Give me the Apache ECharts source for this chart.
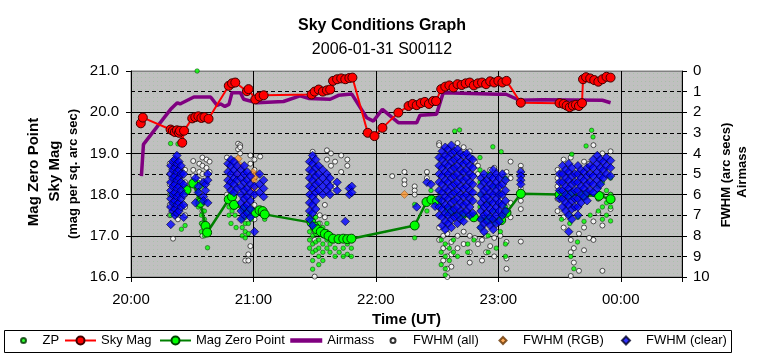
<!DOCTYPE html>
<html>
<head>
<meta charset="utf-8">
<script src="https://cdn.jsdelivr.net/npm/echarts@6/dist/echarts.min.js"></script>
<style>
html,body{margin:0;padding:0;background:#fff;}
#chart{width:764px;height:358px;}
</style>
</head>
<body>
<div id="chart"></div>
<script>
// ---- DATA (x = minutes after 20:00 UT) ----
const hourLabels = ['20:00', '21:00', '22:00', '23:00', '00:00'];
const leftTicks = [16, 17, 18, 19, 20, 21];
const rightTicks = [0, 1, 2, 3, 4, 5, 6, 7, 8, 9, 10];

// Sky Mag (left axis, mag per sq. arc sec)
const skyMag = [
  [4.8, 19.73], [5.8, 19.87], [19.4, 19.58], [20.5, 19.55], [21.5, 19.52], [22.5, 19.56], [23.5, 19.5],
  [24, 19.55], [25.1, 19.26], [26, 19.55], [30, 19.85], [31.5, 19.88], [33, 19.9], [34.5, 19.86],
  [36, 19.88], [38, 19.84], [47.9, 20.64], [49.5, 20.7], [51.1, 20.72], [56.8, 20.51], [57.6, 20.56],
  [60.9, 20.31], [63, 20.38], [65, 20.41], [88.5, 20.43], [90, 20.5], [92, 20.55], [94, 20.5],
  [96, 20.53], [97.6, 20.55], [99, 20.76], [101, 20.8], [103, 20.82], [105, 20.8], [107, 20.83],
  [108.5, 20.84], [116, 19.5], [119.3, 19.42], [123.2, 19.62], [131, 19.99], [136, 20.15], [138, 20.2],
  [140, 20.17], [142, 20.22], [144, 20.25], [146, 20.2], [148, 20.27], [149.5, 20.27], [152, 20.56],
  [154, 20.62], [156, 20.65], [158, 20.6], [160, 20.68], [162, 20.66], [164, 20.7], [166, 20.72],
  [168, 20.65], [170, 20.7], [172, 20.72], [174, 20.68], [176, 20.75], [178, 20.72], [180, 20.76],
  [182, 20.72], [184, 20.76], [191, 20.23], [210, 20.22], [212, 20.2], [213.5, 20.16], [215, 20.12],
  [216.5, 20.16], [218, 20.18], [219.5, 20.15], [221, 20.22], [221.5, 20.8], [223, 20.85], [225, 20.82],
  [227, 20.78], [229, 20.74], [231, 20.8], [233, 20.86], [235, 20.84]
];

// Mag Zero Point (left axis)
const magZeroPoint = [
  [27.2, 18.11], [30.5, 18.27], [34, 17.8], [36.5, 17.24], [37.3, 17.08], [47.9, 17.88], [49.5, 17.95],
  [50.5, 17.75], [56, 17.64], [58, 17.6], [60.9, 17.56], [63, 17.62], [64.5, 17.6], [65.5, 17.52],
  [88.5, 17.32], [90, 17.22], [91, 17.16], [93, 17.1], [95, 17.05], [96.8, 17.0], [99, 16.93],
  [101.7, 16.92], [104, 16.93], [106, 16.92], [108, 16.93], [139, 17.25], [144.8, 17.82], [147.2, 17.88],
  [150, 17.85], [156, 17.6], [162, 17.5], [168, 17.45], [175, 17.4], [181.4, 17.38], [184, 17.56],
  [191, 18.02], [210, 18.0], [215, 18.0], [222, 17.98], [229.4, 17.97], [235, 17.89]
];

// Airmass (right axis)
const airmass = [
  [5.1, 5.1], [6.1, 3.56], [19.4, 1.86], [22.7, 1.54], [24, 1.6], [30.8, 1.26], [39, 1.26], [42.2, 1.67],
  [44, 1.6], [46, 1.72], [48, 1.62], [49.5, 1.05], [53.6, 1.05], [55.2, 1.37], [61.7, 1.54], [74.7, 1.48],
  [82.8, 1.21], [87, 1.33], [97.6, 1.37], [101.7, 1.18], [108.2, 1.12], [115.5, 2.27], [118.8, 2.43],
  [123.2, 1.86], [131, 2.51], [140, 2.51], [141.6, 2.15], [149.7, 2.1], [153, 1.05], [179.8, 1.13],
  [183.8, 1.13], [190.3, 1.42], [201.7, 1.4], [231, 1.42], [235, 1.54]
];

// ZP (left axis) : [minute, [values]]
const zpGroups = [
  [19.4, [19.24, 18.0, 17.5]], [20.5, [18.4, 17.8]], [23, [19.23]], [23.5, [18.5]], [24.7, [17.16]], [26.5, [17.25]],
  [32.4, [21.0]], [33, [18.3, 18.1, 17.9, 17.7]], [34.5, [18.2, 17.8, 17.5, 17.3, 17.1]], [36, [17.6, 17.4, 17.2, 17.0]],
  [37.5, [16.71, 17.1]], [48, [17.9, 17.7, 17.5]], [49.5, [17.95, 17.8, 17.6]], [51, [17.7, 17.5]],
  [49, [17.3]], [51.5, [17.2]], [54.5, [17.65, 17.4, 17.2, 17.0]], [56, [17.6, 17.45, 17.3, 17.1, 16.95]],
  [57.5, [17.5, 17.3, 17.05]], [59, [17.6, 17.4]], [65.5, [17.4, 17.5]],
  [87.5, [17.5, 17.3, 17.1, 16.9, 16.7]], [89, [17.4, 17.2, 17.0, 16.8, 16.6, 16.4, 16.19]],
  [90.5, [17.45, 17.25, 17.05, 16.85, 16.65]], [92, [17.3, 17.1, 16.9, 16.7, 16.5, 16.3]],
  [94, [17.2, 17.0, 16.8, 16.6, 16.4]], [96, [17.3, 17.1, 16.9, 16.7]], [97.5, [17.0, 16.8, 16.6]],
  [100, [16.7, 16.5]], [102, [16.9, 16.6]], [104, [16.7, 16.5]], [106, [16.8, 16.55]], [108, [16.7, 16.5]],
  [139, [17.76, 16.95]], [145, [17.6]], [147, [18.1]], [158.6, [19.54]], [161, [19.57]],
  [171, [18.9, 18.6, 18.3, 18.0, 17.7, 17.4, 17.2]], [175, [18.5, 17.8, 17.0, 16.6]], [177.3, [19.16]],
  [178, [18.2, 17.6, 17.3]], [179, [16.7]], [181, [18.0, 17.5, 17.1]], [181.4, [19.04]], [183.5, [18.4, 17.7, 16.8, 16.5]],
  [152, [16.9, 16.6, 16.3]], [154, [16.8, 16.5, 16.2, 16.05]], [156, [16.7, 16.4]], [158, [16.9, 16.6]],
  [160, [16.5]], [165, [16.8, 16.6]], [168, [16.9]],
  [216, [18.98]], [223, [19.18]], [225.7, [19.56]], [226.4, [19.4]],
  [229, [18.2, 17.9, 17.6]], [231, [18.3, 18.0, 17.7, 17.4]], [233, [18.1, 17.8, 17.5]], [235, [18.4, 18.0, 17.7, 17.36]],
  [211, [17.4]], [215, [17.5, 17.3]], [219, [17.45]], [222, [17.35]], [225, [17.5]],
  [215.5, [16.5]], [217, [16.2]], [218.8, [16.85]]
];

// FWHM (all) (right axis)
const fwhmAllGroups = [
  [19, [4.5, 5.0, 5.5, 6.0, 6.5, 7.0]], [20.6, [8.14]], [23, [7.2]], [26.5, [4.8, 5.4, 6.0, 6.6, 7.0]],
  [30.5, [4.37, 4.8, 5.1]], [33.5, [4.5, 4.9, 5.3]], [35, [4.2, 4.6, 5.0, 6.8, 7.4, 8.0]], [37, [4.3, 4.7]], [38.5, [4.4, 4.9]],
  [47, [4.2, 6.0]], [50, [6.2]], [52.5, [3.53, 3.8]], [53.5, [3.6, 3.7, 4.0]],
  [56, [9.2]], [57.5, [8.9, 9.2]], [58.5, [4.1, 4.5, 8.5]], [60.5, [4.3, 4.8, 5.2, 6.5, 7.2]], [63.3, [4.15]],
  [89, [3.92, 4.2]], [90, [9.98, 8.2, 7.8]], [92.5, [7.0, 7.4]], [95, [6.5, 7.1]], [96, [3.85, 4.3]],
  [98, [4.0, 4.6]], [100, [4.4, 5.6]], [103, [4.1, 4.9]], [106, [4.3, 4.6]],
  [128, [5.1]], [134, [4.9, 5.3, 5.5]], [139, [5.6, 5.8, 6.0]], [145, [4.9, 5.2]],
  [151, [3.5, 3.6, 7.6, 8.2]], [153, [8.0, 8.6, 9.2]], [155, [7.9, 8.5, 9.0, 9.6, 10.0]], [157, [8.3, 8.9, 9.5]],
  [160, [3.5, 8.0, 8.6]], [163, [3.7, 7.8, 8.4]], [166, [3.9, 8.0, 8.8, 9.3]], [168.5, [4.4, 8.1]],
  [170, [4.6, 5.0, 8.4]], [172, [8.2, 9.2]], [174, [8.0, 8.8]], [176, [4.8, 8.5]], [178, [4.7, 8.1, 9.0]],
  [181, [8.0]], [184, [4.9, 8.3, 9.1, 9.6]], [186, [4.4, 5.2, 6.4, 7.1]],
  [191, [4.6, 4.8, 5.7, 6.0, 6.3, 6.7, 8.28]],
  [209, [4.8, 5.2, 5.6, 6.2, 6.8]], [212, [4.3, 7.1, 7.6]], [215.5, [4.2, 8.2, 8.8, 9.95]], [217, [8.6, 9.3]],
  [219.5, [7.9, 9.7]], [222, [4.4, 7.6, 8.7]], [224.5, [4.5, 8.1]], [226.6, [3.6, 7.3, 8.2]], [229, [6.2, 6.9]],
  [231, [4.0, 7.5, 9.7]], [235, [3.9, 6.0, 6.7]]
];

// FWHM (RGB) (right axis)
const fwhmRGB = [
  [52.5, 4.26], [52.5, 5.0], [53.5, 4.6], [59.8, 4.93], [60, 5.3], [60, 5.7], [61, 5.1], [134, 5.99]
];

// FWHM (clear) (right axis)
const fwhmClearGroups = [
  [19.5, [4.6, 5.0, 5.4, 5.8, 6.2, 6.6, 7.45]], [20.5, [4.4, 4.8, 5.2, 5.6, 6.0, 6.4, 6.8]],
  [21.5, [4.3, 4.7, 5.1, 5.5, 5.9, 6.3, 6.7, 7.0]], [22.5, [4.1, 4.5, 4.9, 5.3, 5.7, 6.1, 6.5, 6.9]],
  [23.5, [4.4, 4.8, 5.2, 5.6, 6.0, 6.4, 6.8]], [24.5, [4.6, 5.0, 5.4, 5.8, 6.2, 6.6]], [25.8, [5.0, 5.5, 6.0, 6.5, 7.1]],
  [31.6, [5.2, 6.4]], [33, [5.6, 5.9]], [35.5, [5.4, 6.1, 6.3]], [36.5, [5.5, 5.8]], [37.6, [5.0, 5.3, 6.4]],
  [47.5, [4.5, 4.9, 5.3, 5.6]], [49, [4.3, 4.6, 5.0, 5.4, 5.8]], [50.5, [4.4, 4.8, 5.2, 5.5, 5.9]],
  [52, [4.6, 5.0, 5.3, 5.7]], [54, [4.8, 5.2, 5.6, 6.0, 6.4, 6.8, 7.2]], [55.5, [4.6, 5.0, 5.4, 5.8, 6.2, 6.6, 7.0]],
  [57, [4.9, 5.3, 5.7, 6.1, 6.5, 6.9]], [58.5, [5.1, 5.5, 5.9, 6.3, 6.7, 7.1]], [60.5, [5.6, 6.0, 7.8]],
  [63, [5.0, 5.5, 5.9]], [65, [5.3, 5.7, 6.1]],
  [87.5, [4.4, 4.8, 5.2, 5.6, 6.0, 6.4, 6.8, 7.2]], [89, [4.1, 4.5, 4.9, 5.3, 5.7, 6.1, 6.5, 6.9, 7.5]],
  [90.5, [4.3, 4.7, 5.1, 5.5, 5.9, 6.3, 6.7]], [92, [4.6, 5.0, 5.4, 5.8]], [94, [4.8, 5.2, 5.6, 6.0]],
  [96, [5.0, 5.4, 5.8]], [97.5, [5.2, 5.6, 6.0]], [101, [5.4, 5.8]], [105, [7.3]], [107, [5.7, 6.0]], [108.2, [5.6, 5.9]],
  [140, [6.6]], [145, [5.4]], [147, [5.5]], [149, [6.57]],
  [151, [4.2, 4.6, 5.0, 5.4, 5.8, 6.2, 6.6, 7.0]], [152.5, [3.9, 4.3, 4.7, 5.1, 5.5, 5.9, 6.3, 6.7, 7.1, 7.5]],
  [154, [3.7, 4.1, 4.5, 4.9, 5.3, 5.7, 6.1, 6.5, 6.9, 7.3, 7.7]], [155.5, [3.8, 4.2, 4.6, 5.0, 5.4, 5.8, 6.2, 6.6, 7.0, 7.4]],
  [157, [3.6, 4.0, 4.4, 4.8, 5.2, 5.6, 6.0, 6.4, 6.8, 7.2, 7.6]], [158.5, [3.9, 4.3, 4.7, 5.1, 5.5, 5.9, 6.3, 6.7, 7.1]],
  [160, [3.8, 4.2, 4.6, 5.0, 5.4, 5.8, 6.2, 6.6, 7.0, 7.4]], [161.5, [4.0, 4.4, 4.8, 5.2, 5.6, 6.0, 6.4, 6.8, 7.2]],
  [163, [4.1, 4.5, 4.9, 5.3, 5.7, 6.1, 6.5, 6.9, 7.3]], [164.5, [4.0, 4.4, 4.8, 5.2, 5.6, 6.0, 6.4, 6.8]],
  [166, [4.2, 4.6, 5.0, 5.4, 5.8, 6.2, 6.6, 7.0]], [167.5, [4.3, 4.7, 5.1, 5.5, 5.9, 6.3, 6.9]],
  [171.5, [5.2, 5.6, 6.0, 6.4, 6.8, 7.2, 7.6]], [173, [5.0, 5.4, 5.8, 6.2, 6.6, 7.0, 7.4, 7.8]],
  [174.5, [5.3, 5.7, 6.1, 6.5, 6.9, 7.3]], [176, [5.1, 5.5, 5.9, 6.3, 6.7, 7.1, 7.5]],
  [177.5, [4.8, 5.2, 5.6, 6.0, 6.4, 6.8, 7.2, 7.7]], [179, [5.0, 5.4, 5.8, 6.2, 6.6, 7.0, 7.4]],
  [180.5, [5.2, 5.6, 6.0, 6.4, 6.8, 7.3]], [182, [5.0, 5.5, 6.0, 6.5, 7.0]], [183.5, [5.3, 5.8, 6.3, 6.8]],
  [191, [4.9, 5.1, 5.3, 5.5]],
  [210, [5.0, 5.4, 5.8, 6.2]], [211.5, [4.6, 5.0, 5.4, 5.8, 6.2, 6.6]], [213, [4.8, 5.2, 5.6, 6.0, 6.4, 6.8]],
  [214.5, [4.5, 4.9, 5.3, 5.7, 6.1, 6.5, 7.0, 7.8]], [216, [4.7, 5.1, 5.5, 5.9, 6.3, 6.7, 7.2]],
  [217.5, [5.0, 5.4, 5.8, 6.2, 6.6]], [219, [4.6, 5.0, 5.4, 5.8, 6.2, 6.6, 7.0]], [220.5, [4.8, 5.2, 5.6, 6.0, 6.4]],
  [222, [4.9, 5.3, 5.7, 6.1]], [223.5, [4.7, 5.1, 5.5, 5.9, 6.3]], [225, [4.6, 5.0, 5.4, 5.8]],
  [226.5, [4.3, 4.7, 5.1, 5.5, 5.9]], [228.5, [4.1, 4.5, 4.9, 5.3, 5.7]], [230, [4.3, 4.7, 5.1, 5.5]],
  [231.5, [4.4, 4.8, 5.2]], [233, [4.2, 4.6, 5.0]], [235, [4.35, 4.7, 5.1]]
];

function expand(groups) {
  const out = [];
  groups.forEach(g => g[1].forEach(v => out.push([g[0], v])));
  return out;
}

// ---- CHART ----
const FONT = '"Liberation Sans", Arial, sans-serif';
const pc = document.createElement('canvas');
pc.width = 4; pc.height = 4;
const pctx = pc.getContext('2d');
pctx.fillStyle = '#c0c0c0'; pctx.fillRect(0, 0, 4, 4);
pctx.fillStyle = '#a9c2a9'; pctx.fillRect(1, 1, 1, 1);

const chart = echarts.init(document.getElementById('chart'), null, {renderer: 'canvas'});

function legendAt(item, left, w, h, padLeft) {
  return {
    data: [item], left: left, top: 334, padding: 0, itemWidth: w, itemHeight: h,
    itemGap: 0, selectedMode: false,
    textStyle: {fontFamily: FONT, fontSize: 13, color: '#000', padding: [0, 0, 0, padLeft]}
  };
}

const option = {
  animation: false,
  backgroundColor: '#fff',
  textStyle: {fontFamily: FONT},
  title: [
    {text: 'Sky Conditions Graph', left: 'center', top: 13,
     textStyle: {fontFamily: FONT, fontSize: 16, fontWeight: 'bold', color: '#000'}},
    {text: '2006-01-31 S00112', left: 'center', top: 37,
     textStyle: {fontFamily: FONT, fontSize: 16, fontWeight: 'normal', color: '#000'}}
  ],
  grid: {left: 131, right: 82, top: 71, bottom: 81, show: true,
         backgroundColor: {image: pc, repeat: 'repeat'}, borderColor: '#808080', borderWidth: 1},
  legend: [
    legendAt('ZP', 20, 5, 5, 11.5),
    legendAt('Sky Mag', 64, 31, 10, 0),
    legendAt('Mag Zero Point', 159, 31, 10, 0),
    legendAt({name: 'Airmass', itemStyle: {opacity: 0, borderWidth: 0}, lineStyle: {width: 4.5, color: '#800080'}}, 288, 32, 10, 0),
    legendAt('FWHM (all)', 389.5, 5, 5, 12.5),
    legendAt('FWHM (RGB)', 498.5, 7, 7, 11.5),
    legendAt('FWHM (clear)', 621, 8, 8, 11)
  ],
  graphic: [
    {type: 'rect', shape: {x: 4.5, y: 330.5, width: 727, height: 22}, z: -1,
     style: {fill: '#fff', stroke: '#000', lineWidth: 1}},
    {type: 'text', x: 34, y: 172, rotation: Math.PI / 2,
     style: {text: 'Mag Zero Point', font: 'bold 15px ' + FONT, fill: '#000', align: 'center', verticalAlign: 'middle'}},
    {type: 'text', x: 55, y: 171, rotation: Math.PI / 2,
     style: {text: 'Sky Mag', font: 'bold 15px ' + FONT, fill: '#000', align: 'center', verticalAlign: 'middle'}},
    {type: 'text', x: 73.5, y: 174, rotation: Math.PI / 2,
     style: {text: '(mag per sq. arc sec)', font: 'bold 13px ' + FONT, fill: '#000', align: 'center', verticalAlign: 'middle'}},
    {type: 'text', x: 726, y: 175, rotation: Math.PI / 2,
     style: {text: 'FWHM (arc secs)', font: 'bold 13px ' + FONT, fill: '#000', align: 'center', verticalAlign: 'middle'}},
    {type: 'text', x: 742, y: 172, rotation: Math.PI / 2,
     style: {text: 'Airmass', font: 'bold 13px ' + FONT, fill: '#000', align: 'center', verticalAlign: 'middle'}}
  ],
  xAxis: {
    type: 'value', min: 0, max: 270, interval: 60,
    name: 'Time (UT)', nameLocation: 'middle', nameGap: 29,
    nameTextStyle: {fontFamily: FONT, fontSize: 15, fontWeight: 'bold', color: '#000'},
    axisLine: {show: true, onZero: false, lineStyle: {color: '#000', width: 1}},
    axisTick: {show: true, length: 5, lineStyle: {color: '#000'}},
    axisLabel: {margin: 15, fontFamily: FONT, fontSize: 15, color: '#000',
      formatter: v => (v % 60 === 0 ? hourLabels[v / 60] : '')},
    splitLine: {show: true, lineStyle: {color: '#000', width: 1}}
  },
  yAxis: [
    {
      type: 'value', min: leftTicks[0], max: leftTicks[leftTicks.length - 1], interval: 1, position: 'left',
      axisLine: {show: true, lineStyle: {color: '#000', width: 1}},
      axisTick: {show: true, length: 5, lineStyle: {color: '#000'}},
      axisLabel: {margin: 12, fontFamily: FONT, fontSize: 15, color: '#000', formatter: v => v.toFixed(1)},
      splitLine: {show: true, lineStyle: {color: ['#000', '#000', '#000', '#000', '#000', '#808080'], width: 1}},
      minorTick: {show: false, splitNumber: 2},
      minorSplitLine: {show: true, lineStyle: {color: '#000', width: 1, type: [4, 3]}}
    },
    {
      type: 'value', min: rightTicks[0], max: rightTicks[rightTicks.length - 1], interval: 1, inverse: true, position: 'right',
      axisLine: {show: true, lineStyle: {color: '#000', width: 1}},
      axisTick: {show: true, length: 5, lineStyle: {color: '#000'}},
      axisLabel: {margin: 11, fontFamily: FONT, fontSize: 15, color: '#000'},
      splitLine: {show: false}
    }
  ],
  series: [
    {name: 'FWHM (all)', type: 'scatter', yAxisIndex: 1, data: expand(fwhmAllGroups), symbol: 'circle', symbolSize: 5,
     progressive: 0, itemStyle: {color: '#ffffff', borderColor: '#000', borderWidth: 0.8}, z: 2},
    {name: 'ZP', type: 'scatter', yAxisIndex: 0, data: expand(zpGroups), symbol: 'circle', symbolSize: 4.5,
     progressive: 0, itemStyle: {color: '#00ff00', borderColor: '#003300', borderWidth: 0.6}, z: 3},
    {name: 'Mag Zero Point', type: 'line', yAxisIndex: 0, data: magZeroPoint, symbol: 'circle', symbolSize: 9, z: 4,
     lineStyle: {color: '#008000', width: 2.5}, itemStyle: {color: '#00ff00', borderColor: '#004400', borderWidth: 1}},
    {name: 'FWHM (RGB)', type: 'scatter', yAxisIndex: 1, data: fwhmRGB, symbol: 'diamond', symbolSize: 8,
     progressive: 0, itemStyle: {color: '#ff9933', borderColor: '#663300', borderWidth: 0.5}, z: 5},
    {name: 'FWHM (clear)', type: 'scatter', yAxisIndex: 1, data: expand(fwhmClearGroups), symbol: 'diamond', symbolSize: 8.5,
     progressive: 0, itemStyle: {color: '#0000ff', borderColor: '#000022', borderWidth: 0.8}, z: 6},
    {name: 'Airmass', type: 'line', yAxisIndex: 1, data: airmass, symbol: 'none', z: 7,
     lineStyle: {color: '#800080', width: 3.5}, itemStyle: {color: '#800080'}},
    {name: 'Sky Mag', type: 'line', yAxisIndex: 0, data: skyMag, symbol: 'circle', symbolSize: 9, z: 8,
     lineStyle: {color: '#ff0000', width: 2}, itemStyle: {color: '#ff0000', borderColor: '#400000', borderWidth: 1}}
  ]
};
chart.setOption(option);
</script>
</body>
</html>
